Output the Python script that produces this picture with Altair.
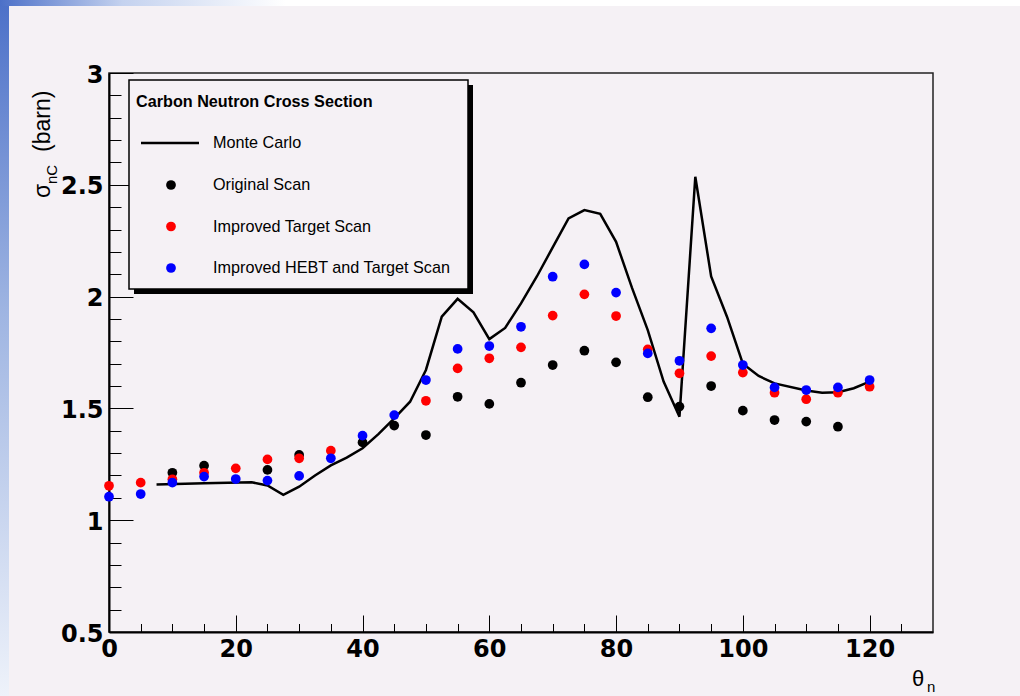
import altair as alt
import pandas as pd

# ---------------- data ----------------
angles = [0, 5, 10, 15, 20, 25, 30, 35, 40, 45, 50, 55, 60, 65, 70, 75, 80, 85, 90, 95, 100, 105, 110, 115, 120]
original_scan = [None, None, 1.212, 1.244, None, 1.225, 1.292, None, 1.348, 1.423, 1.381, 1.552, 1.520, 1.615,
                 1.694, 1.758, 1.706, 1.550, 1.508, 1.600, 1.490, 1.448, 1.441, 1.418, None]
improved_target = [1.154, 1.168, 1.183, 1.212, 1.232, 1.272, 1.277, 1.311, None, None, 1.534, 1.679, 1.724, 1.773,
                   1.915, 2.010, 1.913, 1.764, 1.657, 1.734, 1.660, 1.570, 1.541, 1.570, 1.597]
improved_hebt = [1.105, 1.117, 1.168, 1.195, 1.184, 1.177, 1.198, 1.277, 1.378, 1.470, 1.627, 1.766, 1.779, 1.865,
                 2.089, 2.144, 2.018, 1.746, 1.713, 1.858, 1.694, 1.594, 1.582, 1.594, 1.627]

mc_angles = [7.5, 15, 22.5, 25, 27.5, 30, 32.5, 35, 37.5, 40, 42.5, 45, 47.5, 50, 52.5, 55, 57.5, 60, 62.5, 65,
             67.5, 70, 72.5, 75, 77.5, 80, 82.5, 85, 87.5, 90, 92.5, 95, 97.5, 100, 102.5, 105, 110, 112.5, 115,
             117.5, 120]
mc_values = [1.16, 1.165, 1.17, 1.155, 1.113, 1.15, 1.20, 1.245, 1.28, 1.322, 1.385, 1.455, 1.53, 1.672, 1.91,
             1.99, 1.93, 1.81, 1.86, 1.97, 2.09, 2.22, 2.35, 2.387, 2.37, 2.245, 2.04, 1.85, 1.62, 1.463, 2.536,
             2.09, 1.91, 1.70, 1.645, 1.612, 1.58, 1.57, 1.572, 1.59, 1.62]

series_names = ["Original Scan", "Improved Target Scan", "Improved HEBT and Target Scan"]
series_colors = ["#000000", "#ff0000", "#0000ff"]
legend_title = "Carbon Neutron Cross Section"
mc_name = "Monte Carlo"

x_major = [0, 20, 40, 60, 80, 100, 120]
x_ticks = list(range(0, 130, 5))
y_major = [0.5, 1, 1.5, 2, 2.5, 3]
y_ticks = [round(0.5 + 0.1 * i, 1) for i in range(26)]

# ---------------- layout ----------------
W, H = 824, 559
LEFT, TOP = 109, 73
BG = "#f5f1f5"
FONT = "Liberation Sans"
TICKFONT = "DejaVu Sans"

xscale = alt.Scale(domain=[0, 130], nice=False, zero=False)
yscale = alt.Scale(domain=[0.5, 3], nice=False, zero=False)

one = alt.Data(values=[{"k": 0}])

mc_df = pd.DataFrame({"angle": mc_angles, "value": mc_values})

x_label_axis = alt.Axis(orient="bottom", values=x_major, ticks=False, domain=True, domainColor="black",
                        domainWidth=2, labelFont=TICKFONT, labelFontWeight="bold", labelFontSize=24,
                        labelColor="black", labelPadding=5, labelFlush=False, labelOverlap=False,
                        grid=False, title=None, format="d")
y_label_axis = alt.Axis(orient="left", values=y_major, ticks=False, domain=True, domainColor="black",
                        domainWidth=2, labelFont=TICKFONT, labelFontWeight="bold", labelFontSize=24,
                        labelColor="black", labelPadding=6, labelFlush=False, labelOverlap=False,
                        labelOffset=2, grid=False, title=None, format="~g")
x_tick_axis = alt.Axis(orient="top", offset=-H, values=x_ticks, labels=False, domain=False, grid=False,
                       title=None, tickColor="black", tickWidth=1,
                       tickSize={"condition": {"test": "datum.value % 20 === 0", "value": 17}, "value": 8.5})
y_tick_axis = alt.Axis(orient="right", offset=-W, values=y_ticks, labels=False, domain=False, grid=False,
                       title=None, tickColor="black", tickWidth=1,
                       tickSize={"condition": {"test": "round(datum.value * 10) % 5 === 0", "value": 24},
                                 "value": 12})

layers = []

# slide decoration strips
layers.append(alt.Chart(one).mark_rect(
    fill=alt.Gradient(gradient="linear", x1=0, x2=0, y1=0, y2=1,
                      stops=[alt.GradientStop(color="#4c70c8", offset=0),
                             alt.GradientStop(color="#9fb5e2", offset=0.45),
                             alt.GradientStop(color="#eef2fa", offset=1)])
).encode(x=alt.value(-LEFT), x2=alt.value(-LEFT + 9), y=alt.value(-TOP), y2=alt.value(696 - TOP)))
layers.append(alt.Chart(one).mark_rect(
    fill=alt.Gradient(gradient="linear", x1=0, x2=1, y1=0, y2=0,
                      stops=[alt.GradientStop(color="#4c70c8", offset=0),
                             alt.GradientStop(color="#c4d2ef", offset=0.12),
                             alt.GradientStop(color="#ffffff", offset=0.28),
                             alt.GradientStop(color="#ffffff", offset=1)])
).encode(x=alt.value(-LEFT), x2=alt.value(1020 - LEFT), y=alt.value(-TOP), y2=alt.value(-TOP + 6)))

# Monte Carlo line (carries the label axes)
layers.append(alt.Chart(mc_df).mark_line(color="black", strokeWidth=2.5).encode(
    x=alt.X("angle:Q", scale=xscale, axis=x_label_axis),
    y=alt.Y("value:Q", scale=yscale, axis=y_label_axis)))

# scan points
for i, (name, vals, col) in enumerate(zip(series_names, [original_scan, improved_target, improved_hebt],
                                           series_colors)):
    df = pd.DataFrame({"angle": angles, "value": vals}).dropna()
    if i == 0:
        xa, ya = x_tick_axis, y_tick_axis
    else:
        xa, ya = None, None
    layers.append(alt.Chart(df).mark_circle(size=95, color=col, opacity=1).encode(
        x=alt.X("angle:Q", scale=xscale, axis=xa),
        y=alt.Y("value:Q", scale=yscale, axis=ya)))

# legend box with shadow
bx0, bx1, by0, by1 = 20, 359, 7, 216
layers.append(alt.Chart(one).mark_rect(fill="black").encode(
    x=alt.value(bx0 + 5), x2=alt.value(bx1 + 5), y=alt.value(by0 + 5), y2=alt.value(by1 + 5)))
layers.append(alt.Chart(one).mark_rect(fill=BG, stroke="black", strokeWidth=1.5).encode(
    x=alt.value(bx0), x2=alt.value(bx1), y=alt.value(by0), y2=alt.value(by1)))
layers.append(alt.Chart(one).mark_text(text=legend_title, font=FONT, fontWeight="bold", fontSize=16.2,
                                        align="left", baseline="middle", color="black").encode(
    x=alt.value(27), y=alt.value(29)))
row_y = [70, 112, 153.5, 195]
layers.append(alt.Chart(one).mark_rule(color="black", strokeWidth=2.5).encode(
    x=alt.value(32), x2=alt.value(90), y=alt.value(row_y[0])))
for lbl, yy in zip([mc_name] + series_names, row_y):
    layers.append(alt.Chart(one).mark_text(text=lbl, font=FONT, fontSize=16.2, align="left",
                                            baseline="middle", color="black").encode(
        x=alt.value(104), y=alt.value(yy)))
for col, yy in zip(series_colors, row_y[1:]):
    layers.append(alt.Chart(one).mark_point(shape="circle", filled=True, size=95, color=col, opacity=1).encode(
        x=alt.value(62), y=alt.value(yy)))

# axis titles (with subscripts)
layers.append(alt.Chart(one).mark_text(text="σ", font=FONT, fontSize=23, angle=270, align="left",
                                        baseline="alphabetic", color="black").encode(
    x=alt.value(-59), y=alt.value(125)))
layers.append(alt.Chart(one).mark_text(text="nC", font=FONT, fontSize=15, angle=270, align="left",
                                        baseline="alphabetic", color="black").encode(
    x=alt.value(-52), y=alt.value(111)))
layers.append(alt.Chart(one).mark_text(text="(barn)", font=FONT, fontSize=23, angle=270, align="left",
                                        baseline="alphabetic", color="black").encode(
    x=alt.value(-59), y=alt.value(79)))
layers.append(alt.Chart(one).mark_text(text="θ", font=FONT, fontSize=22, align="left",
                                        baseline="alphabetic", color="black").encode(
    x=alt.value(803), y=alt.value(613)))
layers.append(alt.Chart(one).mark_text(text="n", font=FONT, fontSize=15, align="left",
                                        baseline="alphabetic", color="black").encode(
    x=alt.value(818), y=alt.value(619)))

chart = alt.layer(*layers).resolve_axis(x="independent", y="independent").properties(
    width=W, height=H,
    autosize=alt.AutoSizeParams(type="none"),
    padding={"left": LEFT, "top": TOP, "right": 1020 - LEFT - W, "bottom": 696 - TOP - H},
    background=BG,
).configure_view(stroke="#222222", strokeWidth=1.5)

chart.save("out.html", embed_options={"renderer": "svg", "actions": False})
